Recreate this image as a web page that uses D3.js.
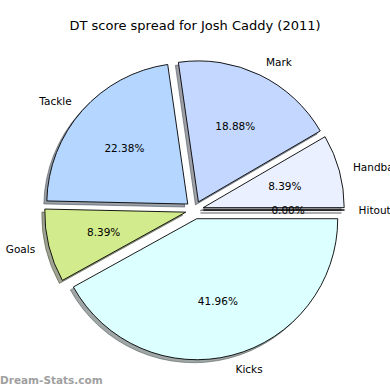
<!DOCTYPE html>
<html>
<head>
<meta charset="utf-8">
<script src="https://cdn.jsdelivr.net/npm/d3@7"></script>
<style>
  body { margin: 0; background: #fff; }
  svg { display: block; font-family: "DejaVu Sans", sans-serif; }
</style>
</head>
<body>
<div id="chart"></div>
<script>
// slices in drawing order, counter-clockwise from 3 o'clock
var categories = ["Hitouts", "Handballs", "Mark", "Tackle", "Goals", "Kicks"];
var values = [0, 12, 27, 32, 12, 60];
var colors = ["#e6e6ff", "#eaf0ff", "#c4d8ff", "#b4d6ff", "#d2eb8c", "#dcffff"];

function PieChart() {
  var w = 390, h = 390;
  var cx = 194.5, cy = 210;
  var r = 141;
  var explode = 9;
  var total = d3.sum(values);

  var svg = d3.select("#chart")
    .append("svg")
    .attr("width", w)
    .attr("height", h);

  svg.append("text")
    .attr("x", 195)
    .attr("y", 25)
    .attr("text-anchor", "middle")
    .attr("dominant-baseline", "central")
    .style("font-size", "13px")
    .text("DT score spread for Josh Caddy (2011)");

  var dataset = categories.map((c, i) => ({ name: c, value: values[i], color: colors[i] }));

  // d3 angles: clockwise from 12 o'clock, so go backwards from pi/2
  var pie = d3.pie()
    .sort(null)
    .value((d) => d.value)
    .startAngle(Math.PI / 2)
    .endAngle(Math.PI / 2 - 2 * Math.PI);

  var arcs = pie(dataset);
  var arc = d3.arc().innerRadius(0).outerRadius(r);

  function offset(d, dist) {
    var a = (d.startAngle + d.endAngle) / 2;
    return [Math.sin(a) * dist, -Math.cos(a) * dist];
  }

  function shade(d) {
    var c = d3.rgb(d.data.color);
    return d3.rgb(c.r * 0.3, c.g * 0.3, c.b * 0.3);
  }

  var g = svg.append("g").attr("transform", "translate(" + cx + "," + cy + ")");

  //shadows first, under every wedge
  g.selectAll("path.shadow")
    .data(arcs)
    .enter()
    .append("path")
    .attr("class", "shadow")
    .attr("transform", (d) => {
      var o = offset(d, explode);
      return "translate(" + (o[0] - 3) + "," + (o[1] + 3) + ")";
    })
    .attr("d", arc)
    .attr("fill", shade)
    .attr("fill-opacity", 0.5)
    .attr("stroke", shade)
    .attr("stroke-opacity", 0.5)
    .attr("stroke-width", 1);

  //wedges
  g.selectAll("path.slice")
    .data(arcs)
    .enter()
    .append("path")
    .attr("class", "slice")
    .attr("transform", (d) => {
      var o = offset(d, explode);
      return "translate(" + o[0] + "," + o[1] + ")";
    })
    .attr("d", arc)
    .attr("fill", (d) => d.data.color)
    .attr("stroke", "#000")
    .attr("stroke-width", 0.9)
    .attr("stroke-linejoin", "round");

  //category labels
  g.selectAll("text.label")
    .data(arcs)
    .enter()
    .append("text")
    .attr("class", "label")
    .attr("x", (d) => offset(d, explode + 1.1 * r)[0])
    .attr("y", (d) => offset(d, explode + 1.1 * r)[1])
    .attr("text-anchor", (d) => offset(d, 1)[0] > 0 ? "start" : "end")
    .attr("dominant-baseline", "central")
    .style("font-size", "10.5px")
    .text((d) => d.data.name);

  //percentages
  g.selectAll("text.pct")
    .data(arcs)
    .enter()
    .append("text")
    .attr("class", "pct")
    .attr("x", (d) => offset(d, explode + 0.6 * r)[0])
    .attr("y", (d) => offset(d, explode + 0.6 * r)[1])
    .attr("text-anchor", "middle")
    .attr("dominant-baseline", "central")
    .style("font-size", "10.5px")
    .text((d) => d3.format(".2f")(d.data.value / total * 100) + "%");

  svg.append("text")
    .attr("x", 0)
    .attr("y", 380)
    .attr("dominant-baseline", "central")
    .style("font-size", "10.5px")
    .style("font-weight", "bold")
    .attr("fill", "#a0a0a0")
    .text("Dream-Stats.com");
}

window.onload = function () {
  PieChart();
};
</script>
</body>
</html>
